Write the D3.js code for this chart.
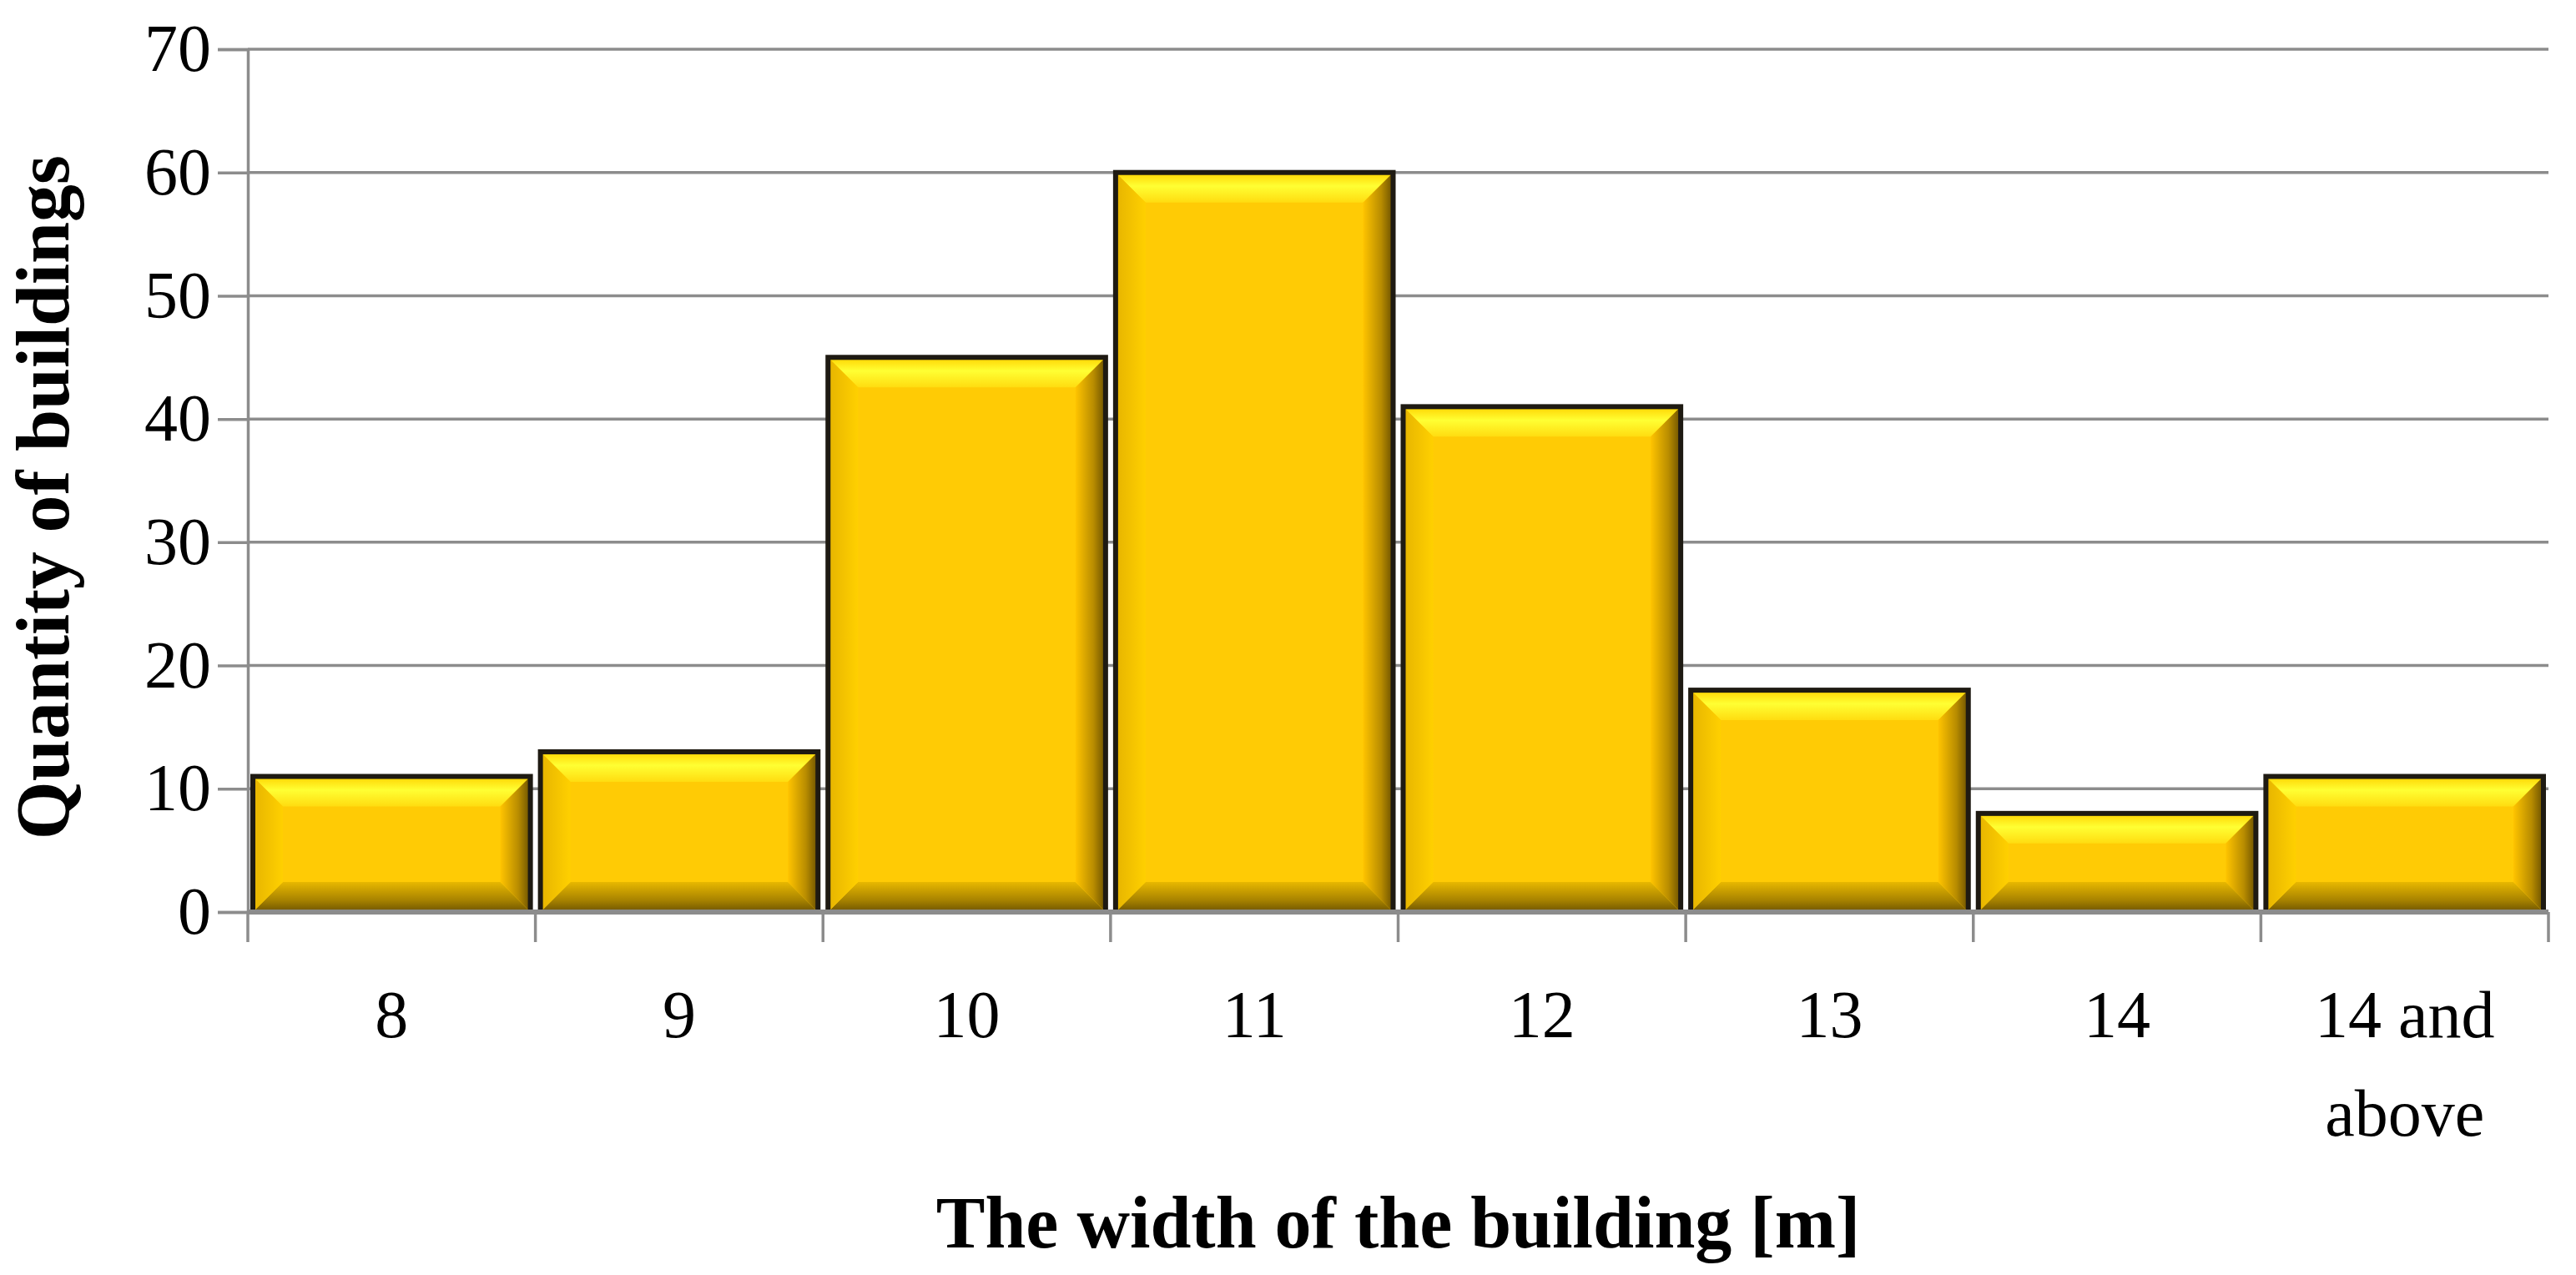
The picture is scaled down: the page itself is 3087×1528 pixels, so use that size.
<!DOCTYPE html>
<html><head><meta charset="utf-8">
<script src="https://cdn.jsdelivr.net/npm/d3@7"></script>
<style>body{margin:0;background:#fff}</style>
</head><body><div id="chart"></div>
<script>
const categories = ['8', '9', '10', '11', '12', '13', '14', '14 and above'];
const counts = [11, 13, 45, 60, 41, 18, 8, 11];
const yTicks = [0, 10, 20, 30, 40, 50, 60, 70];

const W = 3087, H = 1528,
	margin = {top: 59, right: 33, bottom: 435, left: 297},
	width = W - margin.left - margin.right,
	height = H - margin.top - margin.bottom,
	font = '"Liberation Serif", "DejaVu Serif", serif',
	bev = 36;

const svg = d3.select('#chart').append('svg').attr('width', W).attr('height', H);
const defs = svg.append('defs');
function grad(id, x2, y2, stops) {
	const g = defs.append('linearGradient').attr('id', id)
		.attr('x1', 0).attr('y1', 0).attr('x2', x2).attr('y2', y2);
	stops.forEach(s => g.append('stop').attr('offset', s[0]).attr('stop-color', s[1]));
}
grad('gTop', 0, 1, [[0, '#ffd200'], [0.45, '#ffff33'], [1, '#ffdc10']]);
grad('gBot', 0, 1, [[0, '#e8b800'], [0.6, '#a88300'], [1, '#6e5400']]);
grad('gLeft', 1, 0, [[0, '#e6b400'], [1, '#ffd000']]);
grad('gRight', 1, 0, [[0, '#ffc400'], [0.6, '#b88c00'], [1, '#6a5000']]);

const g = svg.append('g').attr('transform', `translate(${margin.left},${margin.top})`);
const x = d3.scaleBand().domain(categories).range([0, width]).paddingInner(0).paddingOuter(0);
const y = d3.scaleLinear().domain([0, 70]).range([height, 0]);

// grid
g.append('g').selectAll('line').data(yTicks.slice(1)).enter().append('line')
	.attr('x1', 0).attr('x2', width).attr('y1', d => y(d)).attr('y2', d => y(d))
	.attr('stroke', '#8c8c8c').attr('stroke-width', 3.5);

// bars
const gap = 6;
const bars = g.append('g').selectAll('g').data(categories).enter().append('g')
	.attr('transform', (d, i) => `translate(${x(d) + gap},${y(counts[i])})`);
bars.each(function(d, i) {
	const b = d3.select(this),
		w = x.bandwidth() - 2 * gap,
		h = y(0) - y(counts[i]),
		e = Math.min(bev, h / 2.5);
	b.append('rect').attr('width', w).attr('height', h).attr('fill', '#ffcb05');
	b.append('path').attr('d', `M0,0H${w}L${w - e},${e}H${e}Z`).attr('fill', 'url(#gTop)');
	b.append('path').attr('d', `M0,${h}H${w}L${w - e},${h - e}H${e}Z`).attr('fill', 'url(#gBot)');
	b.append('path').attr('d', `M0,0L${e},${e}V${h - e}L0,${h}Z`).attr('fill', 'url(#gLeft)');
	b.append('path').attr('d', `M${w},0L${w - e},${e}V${h - e}L${w},${h}Z`).attr('fill', 'url(#gRight)');
	b.append('rect').attr('width', w).attr('height', h).attr('fill', 'none')
		.attr('stroke', '#1e1a12').attr('stroke-width', 6);
});

// y axis
const ya = g.append('g').call(d3.axisLeft(y).tickValues(yTicks).tickSize(36).tickPadding(8));
ya.selectAll('path, line').attr('stroke', '#8c8c8c').attr('stroke-width', 3.5);
ya.selectAll('text').style('font-family', font).style('font-size', '80px').attr('fill', '#000');

// x axis
const xa = g.append('g').attr('transform', `translate(0,${height})`);
xa.append('line').attr('x1', 0).attr('x2', width).attr('stroke', '#8c8c8c').attr('stroke-width', 6);
xa.selectAll('.tk').data(d3.range(categories.length + 1)).enter().append('line')
	.attr('x1', i => i * x.step()).attr('x2', i => i * x.step())
	.attr('y1', 0).attr('y2', 36).attr('stroke', '#8c8c8c').attr('stroke-width', 3.5);
const labs = xa.selectAll('text').data(categories).enter().append('text')
	.attr('x', d => x(d) + x.bandwidth() / 2).attr('y', 150)
	.attr('text-anchor', 'middle').style('font-family', font).style('font-size', '80px');
labs.each(function(d) {
	const t = d3.select(this);
	const lines = d === '14 and above' ? ['14 and', 'above'] : [d];
	lines.forEach((l, k) => t.append('tspan').attr('x', t.attr('x')).attr('dy', k ? 118 : 0).text(l));
});

// titles
svg.append('text').attr('x', margin.left + width / 2).attr('y', 1495)
	.attr('text-anchor', 'middle').style('font-family', font).style('font-size', '88px')
	.style('font-weight', 'bold').text('The width of the building [m]');
svg.append('text').attr('transform', `translate(82,${margin.top + height / 2 + 20}) rotate(-90)`)
	.attr('text-anchor', 'middle').style('font-family', font).style('font-size', '90px')
	.style('font-weight', 'bold').text('Quantity of buildings');
</script></body></html>
